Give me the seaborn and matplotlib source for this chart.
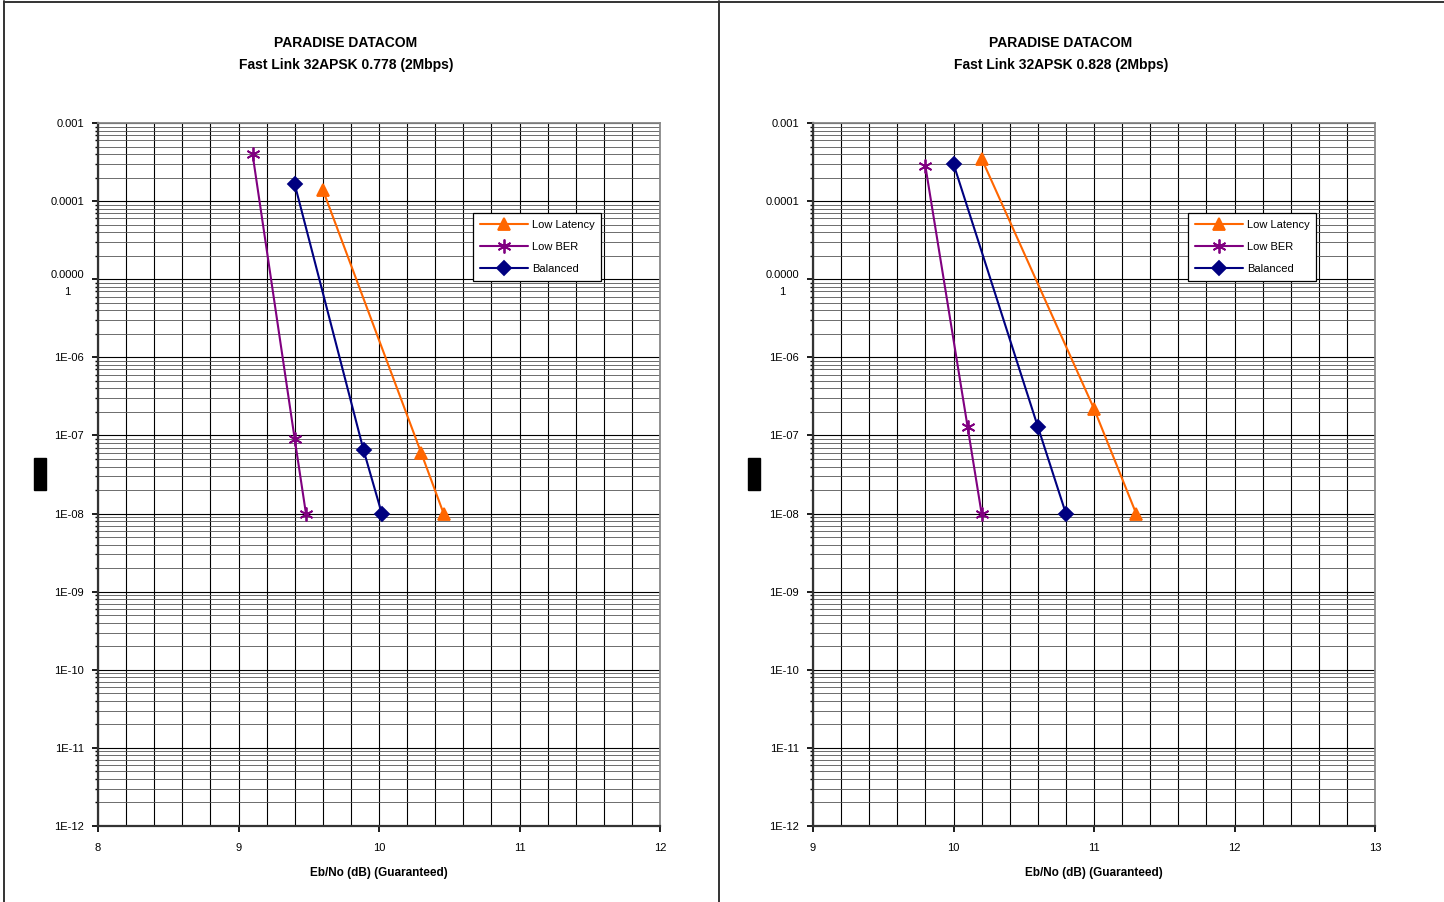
import numpy as np
import pandas as pd
import matplotlib
matplotlib.use("Agg")
import matplotlib.pyplot as plt
import seaborn as sns
from matplotlib.ticker import LogLocator, MultipleLocator, NullFormatter
from matplotlib.patches import Rectangle
from matplotlib.lines import Line2D

# --- datos ---
series_names = ["Low Latency", "Low BER", "Balanced"]

left_low_latency_x = [9.6, 10.3, 10.46]
left_low_latency_y = [1.4e-4, 6.0e-8, 1e-8]
left_low_ber_x = [9.1, 9.4, 9.48]
left_low_ber_y = [4.0e-4, 9.0e-8, 1e-8]
left_balanced_x = [9.4, 9.89, 10.02]
left_balanced_y = [1.65e-4, 6.5e-8, 1e-8]

right_low_latency_x = [10.2, 11.0, 11.3]
right_low_latency_y = [3.5e-4, 2.2e-7, 1e-8]
right_low_ber_x = [9.8, 10.1, 10.2]
right_low_ber_y = [2.8e-4, 1.3e-7, 1e-8]
right_balanced_x = [10.0, 10.6, 10.8]
right_balanced_y = [3.0e-4, 1.3e-7, 1e-8]

y_tick_values = [1e-12, 1e-11, 1e-10, 1e-9, 1e-8, 1e-7, 1e-6, 1e-5, 1e-4, 1e-3]
y_tick_labels = ["1E-12", "1E-11", "1E-10", "1E-09", "1E-08", "1E-07",
                 "1E-06", "0.0000\n1", "0.0001", "0.001"]
left_x_ticks = [8, 9, 10, 11, 12]
right_x_ticks = [9, 10, 11, 12, 13]

title_main = "PARADISE DATACOM"
left_subtitle = "Fast Link 32APSK 0.778 (2Mbps)"
right_subtitle = "Fast Link 32APSK 0.828 (2Mbps)"
x_title = "Eb/No (dB) (Guaranteed)"

colores = {"Low Latency": "#FF6600", "Low BER": "#800080", "Balanced": "#000080"}
marcadores = {"Low Latency": "^", "Low BER": (6, 2, 0), "Balanced": "D"}
tamanos = {"Low Latency": 9, "Low BER": 10, "Balanced": 7}

sns.set_theme(style="white")
plt.rcParams['font.family'] = ['Liberation Sans', 'DejaVu Sans']
plt.rcParams['text.color'] = 'black'
plt.rcParams['xtick.color'] = 'black'
plt.rcParams['ytick.color'] = 'black'
plt.rcParams['axes.labelcolor'] = 'black'

W, H = 1444, 902
fig = plt.figure(figsize=(W / 100, H / 100), dpi=100)


def px_box(x0, y0, x1, y1):
    return [x0 / W, 1 - y1 / H, (x1 - x0) / W, (y1 - y0) / H]


def dibujar_panel(ax, datos, xticks, subtitle):
    ax.set_yscale("log")
    for nombre, (xs, ys) in zip(series_names, datos):
        df = pd.DataFrame({"x": xs, "y": ys})
        sns.lineplot(data=df, x="x", y="y", ax=ax, color=colores[nombre],
                     marker=marcadores[nombre], markersize=tamanos[nombre],
                     markeredgecolor=colores[nombre], markeredgewidth=1.3,
                     linewidth=1.5, label=nombre, sort=False, estimator=None,
                     zorder=5)
    ax.set_xlim(xticks[0], xticks[-1])
    ax.set_ylim(1e-12, 1e-3)
    ax.set_xticks(xticks)
    ax.set_xticklabels([str(t) for t in xticks], fontsize=8)
    ax.xaxis.set_minor_locator(MultipleLocator(0.2))
    ax.set_yticks(y_tick_values)
    ax.set_yticklabels(y_tick_labels, fontsize=8, multialignment="center",
                       linespacing=1.9)
    ax.yaxis.set_minor_locator(LogLocator(base=10, subs=np.arange(2, 10), numticks=100))
    ax.yaxis.set_minor_formatter(NullFormatter())
    ax.grid(which="major", axis="both", color="black", linewidth=0.8)
    ax.grid(which="minor", axis="x", color="black", linewidth=0.8)
    ax.grid(which="minor", axis="y", color="#555555", linewidth=0.6)
    ax.tick_params(axis="x", which="major", length=4, color="black",
                   direction="out", pad=8, bottom=True)
    ax.tick_params(axis="y", which="major", length=4, color="black",
                   direction="out", pad=6, left=True)
    ax.tick_params(axis="y", which="minor", length=2, left=True)
    for lado in ["left", "bottom"]:
        ax.spines[lado].set_color("#333333")
        ax.spines[lado].set_linewidth(1.6)
    for lado in ["top", "right"]:
        ax.spines[lado].set_color("#888888")
        ax.spines[lado].set_linewidth(1.3)
    ax.set_xlabel(x_title, fontsize=8.5, fontweight="bold", labelpad=10)
    ax.set_ylabel("")
    leg = ax.legend(loc="upper left", bbox_to_anchor=(0.667, 0.872),
                    borderaxespad=0, fontsize=8, handlelength=4.4,
                    fancybox=False, framealpha=1, edgecolor="black",
                    borderpad=0.6, labelspacing=1.1, handletextpad=0.3)
    leg.get_frame().set_linewidth(0.9)
    leg.set_zorder(10)


ax1 = fig.add_axes(px_box(98, 123, 660, 826))
ax2 = fig.add_axes(px_box(813, 123, 1375, 826))

dibujar_panel(ax1, [(left_low_latency_x, left_low_latency_y),
                    (left_low_ber_x, left_low_ber_y),
                    (left_balanced_x, left_balanced_y)], left_x_ticks, left_subtitle)
dibujar_panel(ax2, [(right_low_latency_x, right_low_latency_y),
                    (right_low_ber_x, right_low_ber_y),
                    (right_balanced_x, right_balanced_y)], right_x_ticks, right_subtitle)

# títulos
for cx, sub in [(346, left_subtitle), (1061, right_subtitle)]:
    fig.text(cx / W, 1 - 43 / H, title_main, ha="center", va="center",
             fontsize=10, fontweight="bold")
    fig.text(cx / W, 1 - 65 / H, sub, ha="center", va="center",
             fontsize=10, fontweight="bold")

# marcos de la página y rectángulos negros
fig.add_artist(Line2D([4 / W, 4 / W], [0, 1 - 1 / H], color="#333333", lw=1.4,
                      transform=fig.transFigure))
fig.add_artist(Line2D([719 / W, 719 / W], [0, 1 - 1 / H], color="#333333", lw=1.4,
                      transform=fig.transFigure))
fig.add_artist(Line2D([4 / W, 1], [1 - 1.5 / H, 1 - 1.5 / H], color="#333333", lw=1.4,
                      transform=fig.transFigure))
for bx in [34, 748]:
    fig.patches.append(Rectangle((bx / W, 1 - 490 / H), 12 / W, 32 / H,
                                 transform=fig.transFigure, color="black"))

fig.savefig("out.png", dpi=100)
